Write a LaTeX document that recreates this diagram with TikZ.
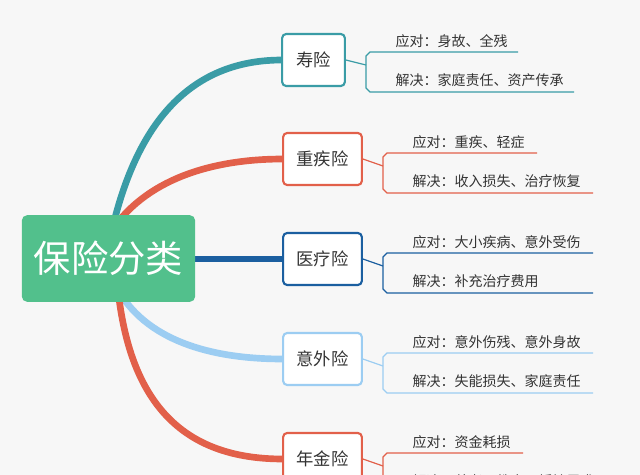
\documentclass[tikz,border=0pt]{standalone}
\usepackage{fontspec}
\setmainfont{Noto Sans CJK SC}
\definecolor{teal1}{HTML}{3A9CA6}
\definecolor{red1}{HTML}{E2604A}
\definecolor{blue1}{HTML}{1B5FA0}
\definecolor{lblue}{HTML}{9CCDF2}
\definecolor{green1}{HTML}{52C08C}
\definecolor{txt}{HTML}{333333}
\tikzset{
 br/.style={draw=#1,line width=1.6pt,rounded corners=3pt,fill=white,minimum width=59pt,minimum height=39pt,font=\fontsize{13}{15}\selectfont,text=txt},
 lab/.style={anchor=south west,font=\fontsize{10.5}{12}\selectfont,text=txt,inner sep=1pt},
 lnk/.style={line width=5pt,draw=#1},
}
\begin{document}
\begin{tikzpicture}[x=0.75pt,y=-0.75pt]
\useasboundingbox (0,0) rectangle (640,475);
\clip (0,0) rectangle (640,475);
\fill[white!97!black] (0,0) rectangle (640,475);
\coordinate (r1) at (112,230);
\coordinate (r2) at (118,290);
\coordinate (c1) at (282,60);
\coordinate (c2) at (283,159);
\coordinate (c3) at (283,259);
\coordinate (c4) at (283,359);
\coordinate (c5) at (283,459);
\draw[lnk=teal1] (r1) .. controls (140,110) and (200,60) .. (c1);
\draw[lnk=red1] (r1) .. controls (150,175) and (220,159) .. (c2);
\draw[lnk=blue1] (190,259) -- (c3);
\draw[lnk=lblue] (r2) .. controls (150,345) and (220,359) .. (c4);
\draw[lnk=red1] (r2) .. controls (130,400) and (180,459) .. (c5);
\node[fill=green1,rounded corners=4pt,minimum width=130pt,minimum height=65pt,text=white,font=\fontsize{28}{32}\selectfont] (root) at (108.5,258.5) {保险分类};
\node[br=teal1,minimum width=47pt] (b1) at (313.5,60) {寿险};
\node[br=red1] (b2) at (322.5,159) {重疾险};
\node[br=blue1] (b3) at (322.5,259) {医疗险};
\node[br=lblue] (b4) at (322.5,359) {意外险};
\node[br=red1] (b5) at (322.5,459) {年金险};
\newcommand{\twolab}[8]{%
 \draw[#2,line width=0.9pt] (#1.east) -- (#3,#4+6);
 \draw[#2,line width=0.9pt] (#5,#4-7) -- (#3+4,#4-7) -- (#3,#4-3) -- (#3,#4+29) -- (#3+4,#4+33) -- (#6,#4+33);
 \node[lab] (la#1) at (#3+28,#4-10) {#7};
 \node[lab] (lb#1) at (#3+28,#4+29) {#8};
}
\twolab{b1}{teal1}{366}{59}{518}{574}{应对：身故、全残}{解决：家庭责任、资产传承}
\twolab{b2}{red1}{383}{160}{537}{593}{应对：重疾、轻症}{解决：收入损失、治疗恢复}
\twolab{b3}{blue1}{383}{260}{593}{593}{应对：大小疾病、意外受伤}{解决：补充治疗费用}
\twolab{b4}{lblue}{383}{360}{593}{593}{应对：意外伤残、意外身故}{解决：失能损失、家庭责任}
\twolab{b5}{red1}{383}{460}{523}{593}{应对：资金耗损}{解决：养老、教育、婚嫁需求}
\end{tikzpicture}
\end{document}
